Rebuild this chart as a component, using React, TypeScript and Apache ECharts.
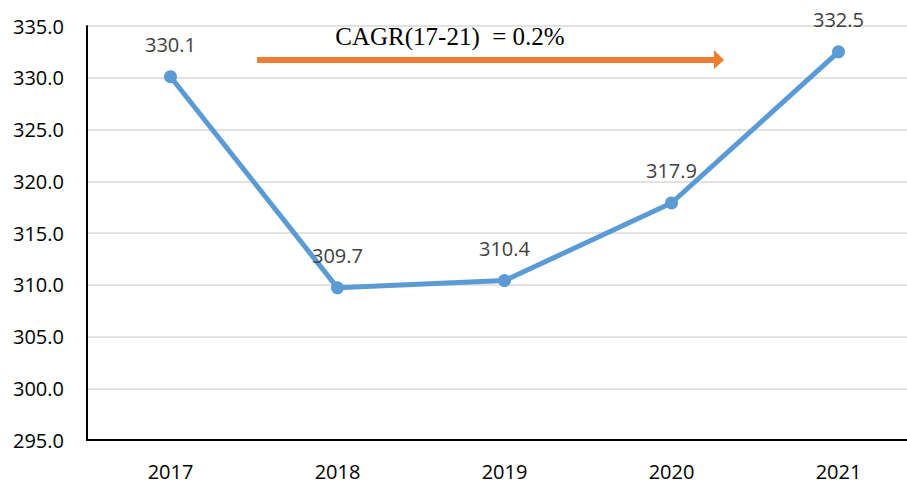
import React, { useEffect, useRef } from "react";
import * as echarts from "echarts";

const categories = ["2017", "2018", "2019", "2020", "2021"];
const values = [330.1, 309.7, 310.4, 317.9, 332.5];
const yMin = 295;
const yMax = 335;
const yStep = 5;
const cagrText = "CAGR(17-21)  = 0.2%";

export default function App() {
  const ref = useRef<HTMLDivElement>(null);
  useEffect(() => {
    if (!ref.current) return;
    const chart = echarts.init(ref.current, null, { renderer: "svg" });
    chart.setOption({
      animation: false,
      backgroundColor: "#ffffff",
      grid: { left: 87, top: 26, bottom: 44, right: 0, containLabel: false },
      xAxis: {
        type: "category",
        data: categories,
        boundaryGap: true,
        axisLine: { show: true, lineStyle: { color: "#000000", width: 2 } },
        axisTick: { show: false },
        axisLabel: {
          color: "#000000",
          fontFamily: "Open Sans",
          fontSize: 20,
          margin: 21,
        },
        splitLine: { show: false },
      },
      yAxis: {
        type: "value",
        min: yMin,
        max: yMax,
        interval: yStep,
        axisLine: { show: true, lineStyle: { color: "#000000", width: 2 } },
        axisTick: { show: false },
        axisLabel: {
          color: "#000000",
          fontFamily: "Open Sans",
          fontSize: 20,
          margin: 23,
          formatter: (v: number) => v.toFixed(1),
        },
        splitLine: { show: true, lineStyle: { color: "#d9d9d9", width: 1.5 } },
      },
      series: [
        {
          type: "line",
          data: values,
          symbol: "circle",
          symbolSize: 13,
          itemStyle: { color: "#5B9BD5" },
          lineStyle: { color: "#5B9BD5", width: 5 },
          label: {
            show: true,
            position: "top",
            distance: 16,
            color: "#404040",
            fontFamily: "Open Sans",
            fontSize: 20,
            formatter: (p: any) => Number(p.value).toFixed(1),
          },
        },
      ],
      graphic: [
        {
          type: "rect",
          shape: { x: 257, y: 57, width: 458, height: 6 },
          style: { fill: "#ED7D31" },
        },
        {
          type: "polygon",
          shape: { points: [[714, 50], [724, 60], [714, 69]] },
          style: { fill: "#ED7D31" },
        },
        {
          type: "text",
          x: 450,
          y: 36,
          style: {
            text: cagrText,
            fontFamily: "Liberation Serif",
            fontSize: 25,
            fill: "#000000",
            align: "center",
            verticalAlign: "middle",
          },
        },
      ],
    });
    return () => chart.dispose();
  }, []);
  return (
    <div
      style={{
        position: "fixed",
        left: 0,
        top: 0,
        width: 907,
        height: 484,
        overflow: "hidden",
        background: "#ffffff",
      }}
    >
      <div ref={ref} style={{ width: 922, height: 484 }} />
    </div>
  );
}
